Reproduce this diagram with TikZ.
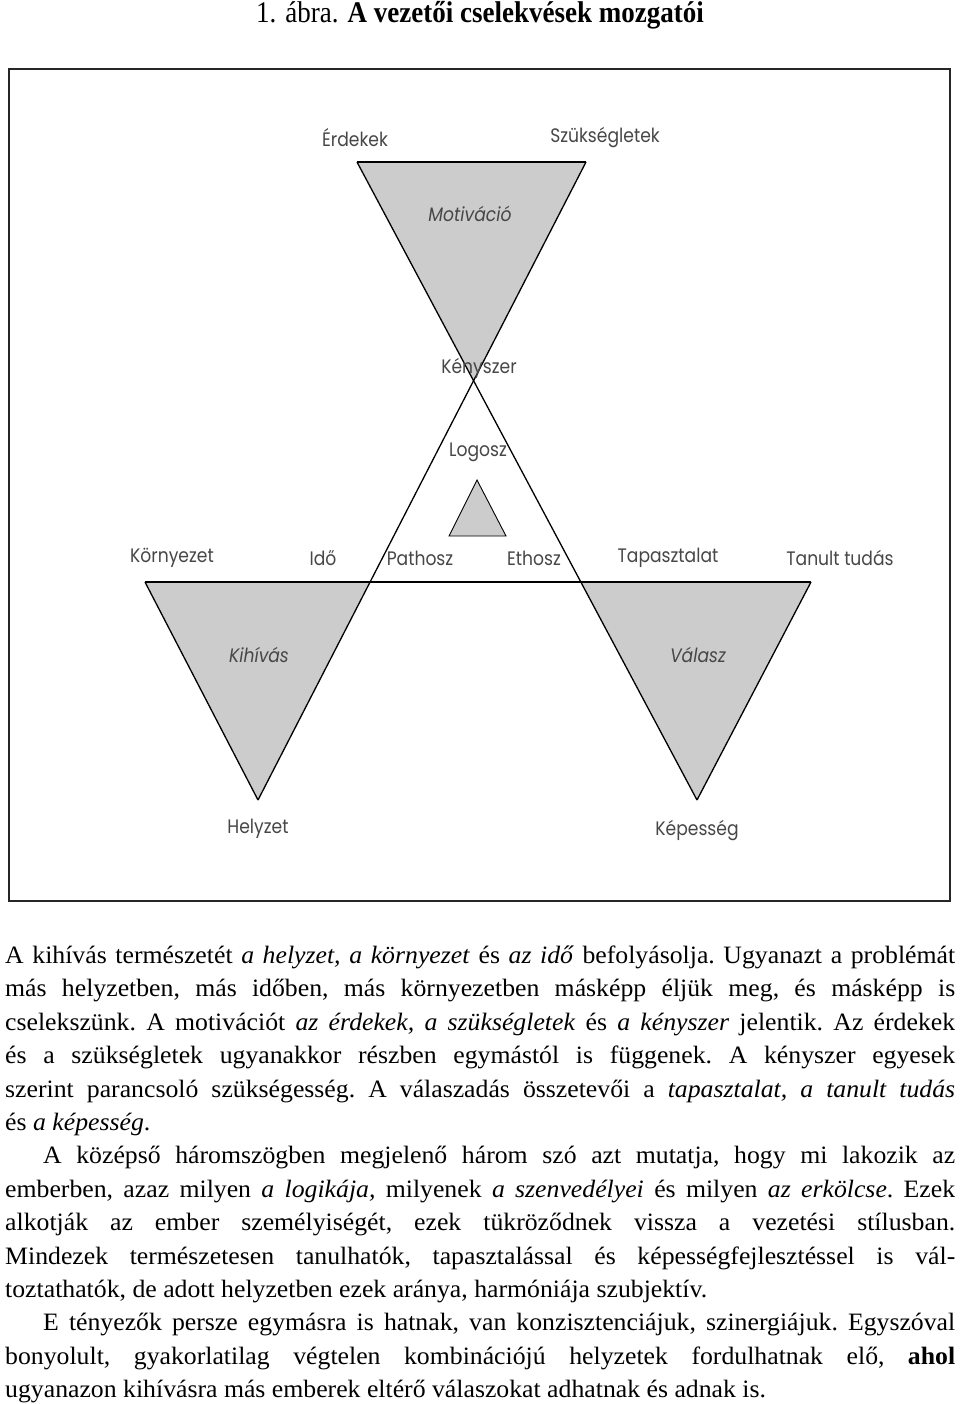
\documentclass[tikz,border=0pt]{standalone}
\usepackage{fontspec}
\setmainfont{Liberation Serif}[FakeStretch=1.03]
\newfontfamily\titlefont{Liberation Serif}[FakeStretch=0.9]
\newfontfamily\labfont{Poppins}[FakeStretch=0.88]
\usetikzlibrary{calc}
\begin{document}
\begin{tikzpicture}[x=1pt,y=-1pt,
  lab/.style={font=\labfont\fontsize{19.5}{22}\selectfont, text=black!72, inner sep=0pt},
  ilab/.style={lab, font=\labfont\itshape\fontsize{19.5}{22}\selectfont},
  shadefill/.style={fill=black!20},
  edge/.style={line width=1.3pt, draw=black},
  frame/.style={line width=2.2pt, draw=black!85}]
\useasboundingbox (0,0) rectangle (960,1404);
\fill[white] (0,0) rectangle (960,1404);

% title
\node[inner sep=0pt, font=\titlefont\fontsize{30}{32}\selectfont] (title) at (480,15)
  {1. ábra. \textbf{A vezetői cselekvések mozgatói}};

% frame
\coordinate (F1) at (9,69);
\coordinate (F2) at (950,901);
\draw[frame] (F1) rectangle (F2);

% geometry
\coordinate (T1) at (357,162);
\coordinate (T2) at (586,162);
\coordinate (BL) at (258,800);
\coordinate (BR) at (697,800);
\coordinate (X) at (intersection of T1--BR and T2--BL);
\coordinate (ML) at (145,582);
\coordinate (MR) at (811,582);
\coordinate (P) at ($(T2)!0.6583!(BL)$);
\coordinate (Q) at ($(T1)!0.6583!(BR)$);

\fill[shadefill] (T1) -- (T2) -- (X) -- cycle;
\fill[shadefill] (ML) -- (P) -- (BL) -- cycle;
\fill[shadefill] (Q) -- (MR) -- (BR) -- cycle;

\draw[edge] (T1) -- (T2);
\draw[edge] (T1) -- (BR);
\draw[edge] (T2) -- (BL);
\draw[edge] (ML) -- (MR);
\draw[edge] (ML) -- (BL);
\draw[edge] (MR) -- (BR);

% small triangle
\coordinate (S1) at (477,480);
\coordinate (S2) at (449,536);
\coordinate (S3) at (506,536);
\filldraw[shadefill, draw=black, line width=0.9pt] (S1) -- (S2) -- (S3) -- cycle;

% labels
\node[lab] (erdekek) at (355,138) {Érdekek};
\node[lab] (szuks) at (605,138) {Szükségletek};
\node[ilab] (motiv) at (470,214) {Motiváció};
\node[lab] (kenyszer) at (479,368) {Kényszer};
\node[lab] (logosz) at (478,452) {Logosz};
\node[lab] (kornyezet) at (172,558) {Környezet};
\node[lab] (ido) at (323,558) {Idő};
\node[lab] (pathosz) at (420,558) {Pathosz};
\node[lab] (ethosz) at (534,558) {Ethosz};
\node[lab] (tapasz) at (668,558) {Tapasztalat};
\node[lab] (tanult) at (840,558) {Tanult tudás};
\node[ilab] (kihivas) at (259,655) {Kihívás};
\node[ilab] (valasz) at (698,655) {Válasz};
\node[lab] (helyzet) at (258,829) {Helyzet};
\node[lab] (kepesseg) at (697,830) {Képesség};

% body text
\node[anchor=north west, inner sep=0pt, text width=950pt, align=justify,
      font=\frenchspacing\fontsize{25}{33.4}\selectfont] (body) at (5,940) {%
\strut A kihívás természetét \textit{a helyzet, a környezet} és \textit{az idő} befolyásolja. Ugyanazt a problémát\linebreak
más helyzetben, más időben, más környezetben másképp éljük meg, és másképp is\linebreak
cselekszünk. A motivációt \textit{az érdekek, a szükségletek} és \textit{a kényszer} jelentik. Az érdekek\linebreak
és a szükségletek ugyanakkor részben egymástól is függenek. A kényszer egyesek\linebreak
szerint parancsoló szükségesség. A válaszadás összetevői a \textit{tapasztalat, a tanult tudás}\linebreak
és \textit{a képesség}.\par
\hspace*{38pt}A középső háromszögben megjelenő három szó azt mutatja, hogy mi lakozik az\linebreak
emberben, azaz milyen \textit{a logikája,} milyenek \textit{a szenvedélyei} és milyen \textit{az erkölcse}. Ezek\linebreak
alkotják az ember személyiségét, ezek tükröződnek vissza a vezetési stílusban.\linebreak
Mindezek természetesen tanulhatók, tapasztalással és képességfejlesztéssel is vál-\linebreak
toztathatók, de adott helyzetben ezek aránya, harmóniája szubjektív.\par
\hspace*{38pt}E tényezők persze egymásra is hatnak, van konzisztenciájuk, szinergiájuk. Egyszóval\linebreak
bonyolult, gyakorlatilag végtelen kombinációjú helyzetek fordulhatnak elő, \textbf{ahol}\linebreak
ugyanazon kihívásra más emberek eltérő válaszokat adhatnak és adnak is.};
\end{tikzpicture}
\end{document}
